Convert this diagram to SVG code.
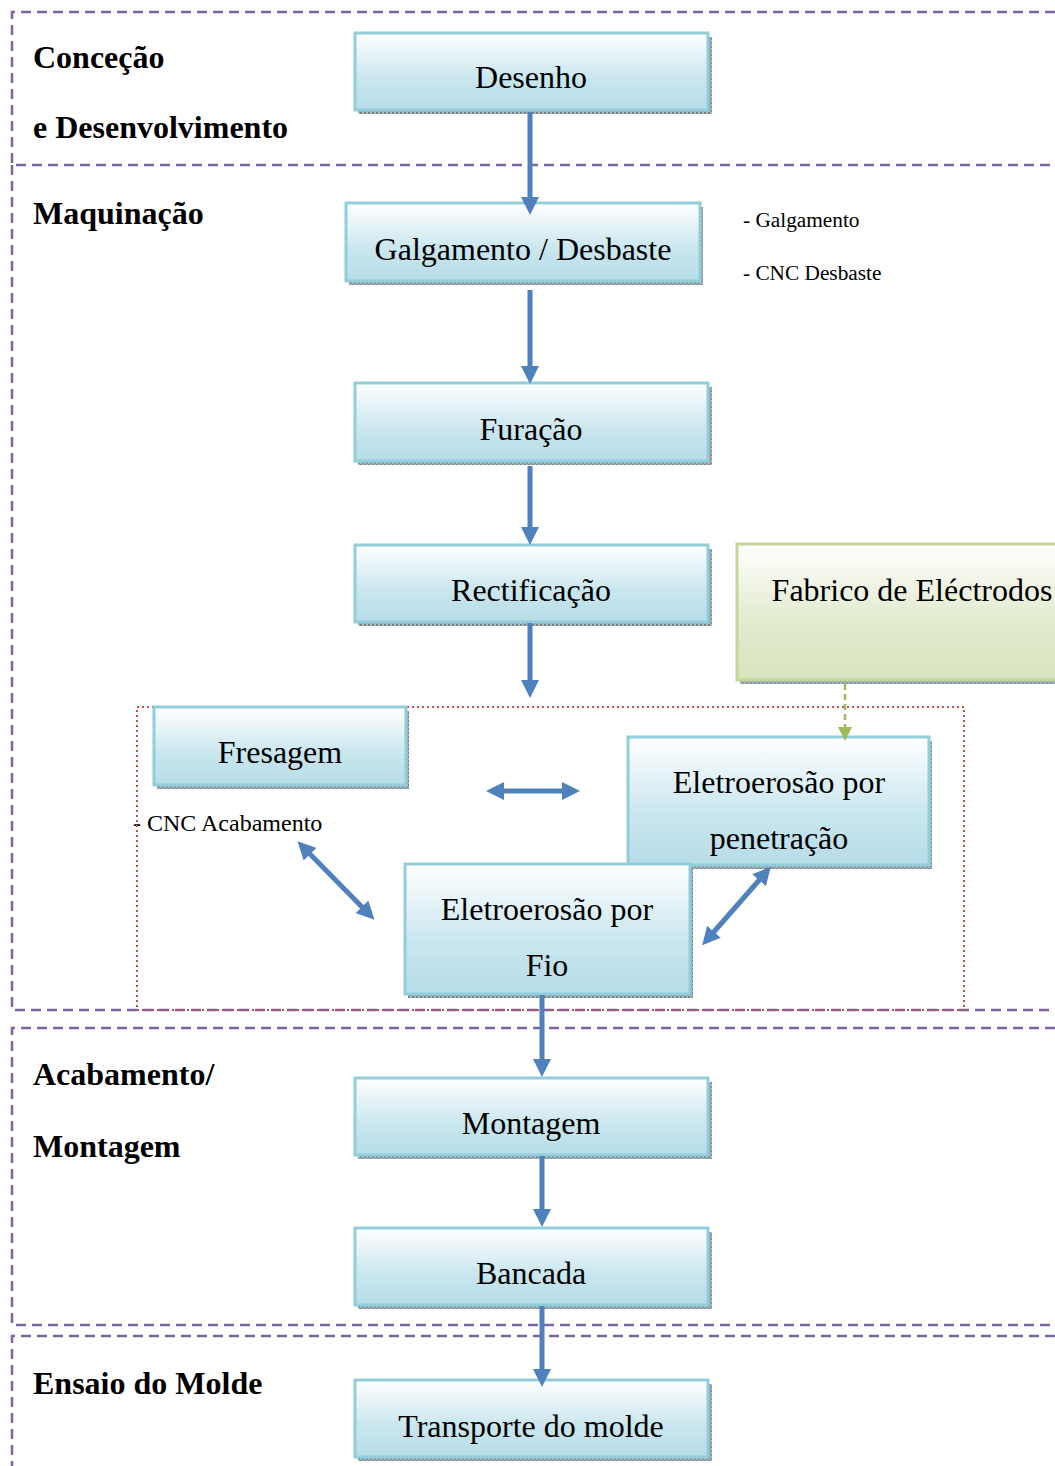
<svg xmlns="http://www.w3.org/2000/svg" width="1055" height="1466" viewBox="0 0 1055 1466">
<style>
.sec{fill:none;stroke:#8064A2;stroke-width:2.5;stroke-dasharray:10 6}
.box{stroke:#92CDDC;stroke-width:3;fill:url(#gb)}
.gbox{stroke:#C3D69B;stroke-width:3;fill:url(#gg)}
.sh{fill:url(#hatch)}
.t{font-family:"Liberation Serif","Times New Roman",serif;font-size:32px;fill:#000;text-anchor:middle}
.h{font-family:"Liberation Serif","Times New Roman",serif;font-size:32px;font-weight:bold;fill:#000}
.s{font-family:"Liberation Serif","Times New Roman",serif;font-size:21.3px;fill:#000}
.s2{font-family:"Liberation Serif","Times New Roman",serif;font-size:24px;fill:#000}
.a{fill:none;stroke:#4F81BD;stroke-width:5}
.ga{fill:none;stroke:#9BBB59;stroke-width:2.5;stroke-dasharray:6 4}
</style>
<defs>
<linearGradient id="gb" x1="0" y1="0" x2="0" y2="1">
<stop offset="0" stop-color="#FFFFFF"/>
<stop offset="0.6" stop-color="#C9E6EE"/>
<stop offset="1" stop-color="#B6DDE8"/>
</linearGradient>
<linearGradient id="gg" x1="0" y1="0" x2="0" y2="1">
<stop offset="0" stop-color="#FFFFFF"/>
<stop offset="0.55" stop-color="#E3EBCF"/>
<stop offset="1" stop-color="#D7E4BD"/>
</linearGradient>
<pattern id="hatch" width="4" height="4" patternUnits="userSpaceOnUse">
<rect width="4" height="4" fill="#A9B7BB"/>
<rect width="2" height="2" fill="#6F8288"/>
<rect x="2" y="2" width="2" height="2" fill="#8597A0"/>
</pattern>
<marker id="ah" viewBox="0 0 18 18" refX="3" refY="9" markerWidth="18" markerHeight="18" markerUnits="userSpaceOnUse" orient="auto-start-reverse">
<path d="M0,0 L18,9 L0,18 z" fill="#4F81BD"/>
</marker>
<marker id="gah" viewBox="0 0 14 14" refX="2" refY="7" markerWidth="14" markerHeight="14" markerUnits="userSpaceOnUse" orient="auto">
<path d="M0,0 L14,7 L0,14 z" fill="#9BBB59"/>
</marker>
</defs>

<g id="sections">
<path class="sec" d="M1055,12 H12 V165 H1055"/>
<path class="sec" d="M12,165 V1010 H1055"/>
<path class="sec" d="M1055,1028 H12 V1325 H1055"/>
<path class="sec" d="M1055,1336 H12 V1466"/>
</g>

<g id="labels">
<text class="h" x="33" y="68">Conceção</text>
<text class="h" x="33" y="138">e Desenvolvimento</text>
<text class="h" x="33" y="224">Maquinação</text>
<text class="h" x="33" y="1085">Acabamento/</text>
<text class="h" x="33" y="1157">Montagem</text>
<text class="h" x="33" y="1394">Ensaio do Molde</text>
<text class="s" x="743" y="227">- Galgamento</text>
<text class="s" x="743" y="280">- CNC Desbaste</text>
<text class="s2" x="133" y="831">- CNC Acabamento</text>
</g>

<g id="group-maquinacao">
<rect x="137" y="707" width="827" height="303" fill="none" stroke="#C0504D" stroke-width="2" stroke-dasharray="2 3"/>
</g>

<g id="node-desenho">
<rect class="sh" x="358" y="37" width="354" height="77"/>
<rect class="box" x="355" y="33" width="353" height="77"/>
<text class="t" x="531" y="88">Desenho</text>
</g>
<g id="node-galgamento">
<rect class="sh" x="349" y="207" width="354" height="78"/>
<rect class="box" x="346" y="203" width="354" height="78"/>
<text class="t" x="523" y="260">Galgamento / Desbaste</text>
</g>
<g id="node-furacao">
<rect class="sh" x="358" y="387" width="354" height="78"/>
<rect class="box" x="355" y="383" width="353" height="78"/>
<text class="t" x="531" y="440">Furação</text>
</g>
<g id="node-rectificacao">
<rect class="sh" x="358" y="549" width="354" height="77"/>
<rect class="box" x="355" y="545" width="353" height="77"/>
<text class="t" x="531" y="601">Rectificação</text>
</g>
<g id="node-fabrico">
<rect class="sh" x="740" y="548" width="340" height="136"/>
<rect class="gbox" x="737" y="544" width="340" height="136"/>
<text class="t" x="912" y="601">Fabrico de Eléctrodos</text>
</g>
<g id="node-fresagem">
<rect class="sh" x="157" y="711" width="252" height="78"/>
<rect class="box" x="154" y="707" width="252" height="78"/>
<text class="t" x="280" y="763">Fresagem</text>
</g>
<g id="node-penetracao">
<rect class="sh" x="631" y="741" width="301" height="128"/>
<rect class="box" x="628" y="737" width="301" height="128"/>
<text class="t" x="779" y="793">Eletroerosão por</text>
<text class="t" x="779" y="849">penetração</text>
</g>
<g id="node-fio">
<rect class="sh" x="408" y="868" width="285" height="130"/>
<rect class="box" x="405" y="864" width="285" height="130"/>
<text class="t" x="547" y="920">Eletroerosão por</text>
<text class="t" x="547" y="976">Fio</text>
</g>
<g id="node-montagem">
<rect class="sh" x="358" y="1082" width="354" height="77"/>
<rect class="box" x="355" y="1078" width="353" height="77"/>
<text class="t" x="531" y="1134">Montagem</text>
</g>
<g id="node-bancada">
<rect class="sh" x="358" y="1232" width="354" height="77"/>
<rect class="box" x="355" y="1228" width="353" height="77"/>
<text class="t" x="531" y="1284">Bancada</text>
</g>
<g id="node-transporte">
<rect class="sh" x="358" y="1384" width="354" height="77"/>
<rect class="box" x="355" y="1380" width="353" height="77"/>
<text class="t" x="531" y="1437">Transporte do molde</text>
</g>

<g id="connectors">
<path class="a" marker-end="url(#ah)" d="M530,112 V200"/>
<path class="a" marker-end="url(#ah)" d="M530,290 V369"/>
<path class="a" marker-end="url(#ah)" d="M530,466 V530"/>
<path class="a" marker-end="url(#ah)" d="M530,623 V683"/>
<path class="a" marker-end="url(#ah)" d="M542,995 V1062"/>
<path class="a" marker-end="url(#ah)" d="M542,1156 V1212"/>
<path class="a" marker-end="url(#ah)" d="M542,1306 V1372"/>
<path class="a" marker-start="url(#ah)" marker-end="url(#ah)" d="M501,791 H565"/>
<path class="a" marker-start="url(#ah)" marker-end="url(#ah)" d="M308,852 L364,909"/>
<path class="a" marker-start="url(#ah)" marker-end="url(#ah)" d="M761,878 L712,934"/>
<path class="ga" marker-end="url(#gah)" d="M845,684 V729"/>
</g>
</svg>
